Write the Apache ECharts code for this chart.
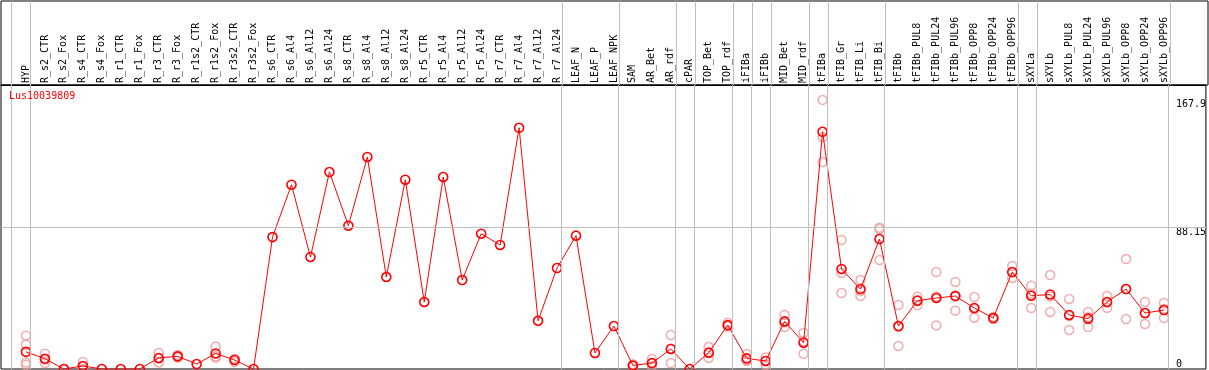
<!DOCTYPE html>
<html>
<head>
<meta charset="utf-8">
<script src="https://cdn.jsdelivr.net/npm/echarts@6/dist/echarts.min.js"></script>
<style>html,body{margin:0;padding:0;background:#fff}#c{width:1209px;height:370px}</style>
</head>
<body>
<div id="c"></div>
<script>
const title = 'Lus10039809';
const categories = ['HYP','R_s2_CTR','R_s2_Fox','R_s4_CTR','R_s4_Fox','R_r1_CTR','R_r1_Fox','R_r3_CTR','R_r3_Fox','R_r1s2_CTR','R_r1s2_Fox','R_r3s2_CTR','R_r3s2_Fox','R_s6_CTR','R_s6_Al4','R_s6_Al12','R_s6_Al24','R_s8_CTR','R_s8_Al4','R_s8_Al12','R_s8_Al24','R_r5_CTR','R_r5_Al4','R_r5_Al12','R_r5_Al24','R_r7_CTR','R_r7_Al4','R_r7_Al12','R_r7_Al24','LEAF_N','LEAF_P','LEAF_NPK','SAM','AR_Bet','AR_rdf','cPAR','TOP_Bet','TOP_rdf','iFIBa','iFIBb','MID_Bet','MID_rdf','tFIBa','tFIB_Gr','tFIB_Li','tFIB_Bi','tFIBb','tFIBb_PUL8','tFIBb_PUL24','tFIBb_PUL96','tFIBb_OPP8','tFIBb_OPP24','tFIBb_OPP96','sXYLa','sXYLb','sXYLb_PUL8','sXYLb_PUL24','sXYLb_PUL96','sXYLb_OPP8','sXYLb_OPP24','sXYLb_OPP96'];
const means = [10.7,6.4,0,1.9,0,0,0,6.9,7.9,3.1,9.7,5.6,0,82.3,115.0,69.9,122.9,89.4,132.3,57.4,118.1,41.8,119.8,55.5,84.4,77.4,150.5,30.1,63.0,83.2,10.0,26.8,2.2,3.7,12.5,0,10.2,27.4,6.6,5.0,29.7,16.4,148.0,62.4,49.9,81.1,26.8,42.6,44.3,45.5,38.1,31.8,60.5,45.7,46.5,33.7,31.4,41.8,49.9,34.9,36.8];
const replicates = [
  [20.8,15.2,4.1,2.7],[9.5,3.7,6.0],[0],[4.4,1.4,0],[],[],[],[10.0,4.1,6.6],[8.8,7.2,7.7],[],[14.1,7.2,7.8],[6.2,4.4,6.2],[],
  [],[],[],[],[],[],[],[],[],[],[],[],[],[],[],[],
  [],[],[],
  [1.6,3.0,2.0],[6.2,1.6,3.3],[21.2,3.7,12.6],[],[13.7,6.9,10.0],[28.8,26.5,26.9],[9.4,5.0,5.4],[7.2,2.7,5.1],[33.7,26.2,29.2],[22.5,9.5,17.2],
  [167.9,144.7,129.1],[80.5,59.9,47.4],[55.5,45.5,48.7],[88.1,68.0,87.2],[39.9,14.3,26.2],[45.1,39.7,43.0],[60.5,27.2,45.2],[54.3,36.4,45.8],[44.9,32.0,37.4],[32.5,31.2,31.7],[64.3,56.8,60.4],
  [52.0,38.1,47.0],[58.6,35.6,45.3],[43.7,24.3,33.1],[35.6,26.2,32.4],[45.5,38.2,41.7],[68.6,31.2,49.9],[41.8,28.1,34.8],[41.2,31.8,37.4]
];
const groupEnds = [-1,0,28,31,34,35,37,38,39,41,42,45,52,53,60];
const yTicksTop = [88.15, 167.9];
const yTicksBottom = [0];
const gridLineValue = 88.15;

const meanData = means.map((v, i) => [i, v]);
const repData = [];
replicates.forEach((arr, i) => arr.forEach(v => repData.push([i, v])));
const catIdx = categories.map((c, i) => i);
const mono = 'DejaVu Sans Mono';
const X_MIN = -1.3158, X_MAX = 62.2105, Y_MAX = 177.2;
const guideLines = groupEnds.map(g => ({xAxis: g + 0.24}));
const guideStyle = {color: '#c0c0c0', width: 1, type: 'solid'};

const chart = echarts.init(document.getElementById('c'), null, {renderer: 'canvas'});
chart.setOption({
  animation: false,
  backgroundColor: '#fff',
  title: {text: title, left: 9, top: 91, padding: 0,
    textStyle: {color: '#ff0000', fontFamily: mono, fontSize: 10, fontWeight: 'normal'}},
  grid: [
    {left: 1, right: 1, top: 85, bottom: 1, show: true, borderColor: '#000', borderWidth: 1},
    {left: 1, right: 1, top: 1, height: 84, show: true, borderColor: '#000', borderWidth: 1}
  ],
  xAxis: [
    {type: 'value', gridIndex: 0, min: X_MIN, max: X_MAX, position: 'top',
      axisLine: {show: true, onZero: false, lineStyle: {color: '#000', width: 1}},
      axisTick: {show: false}, splitLine: {show: false},
      axisLabel: {customValues: catIdx, rotate: -90, margin: 2, fontFamily: mono, fontSize: 10, color: '#000',
        formatter: v => categories[Math.round(v)] || ''}},
    {type: 'value', gridIndex: 1, min: X_MIN, max: X_MAX, show: false}
  ],
  yAxis: [
    {type: 'value', gridIndex: 0, min: 0, max: Y_MAX, position: 'right',
      axisLine: {show: false}, axisTick: {show: false}, splitLine: {show: false},
      axisLabel: {customValues: yTicksTop, inside: true, align: 'left', margin: 30, verticalAlign: 'top',
        fontFamily: mono, fontSize: 10, color: '#000', formatter: v => String(v)}},
    {type: 'value', gridIndex: 0, min: 0, max: Y_MAX, position: 'right',
      axisLine: {show: false}, axisTick: {show: false}, splitLine: {show: false},
      axisLabel: {customValues: yTicksBottom, inside: true, align: 'left', margin: 30, verticalAlign: 'bottom',
        fontFamily: mono, fontSize: 10, color: '#000', formatter: v => String(v)}},
    {type: 'value', gridIndex: 1, min: 0, max: 1, show: false}
  ],
  series: [
    {
      type: 'line', name: 'guidesTop', xAxisIndex: 1, yAxisIndex: 2, data: [], silent: true,
      markLine: {silent: true, symbol: 'none', label: {show: false}, lineStyle: guideStyle, data: guideLines}
    },
    {
      type: 'line', name: 'guides', xAxisIndex: 0, yAxisIndex: 0, data: [], silent: true,
      markLine: {silent: true, symbol: 'none', label: {show: false}, lineStyle: guideStyle,
        data: guideLines.concat([{yAxis: gridLineValue}])}
    },
    {
      type: 'scatter', name: 'replicates', xAxisIndex: 0, yAxisIndex: 0, data: repData, symbol: 'circle', symbolSize: 9, z: 3,
      itemStyle: {color: 'rgba(0,0,0,0)', borderColor: '#ef9a9a', borderWidth: 1.5}
    },
    {
      type: 'line', name: 'mean', xAxisIndex: 0, yAxisIndex: 0, data: meanData, symbol: 'circle', symbolSize: 9, z: 4,
      lineStyle: {color: '#ff0000', width: 1},
      itemStyle: {color: 'rgba(0,0,0,0)', borderColor: '#ff0000', borderWidth: 1.6}
    }
  ]
});
</script>
</body>
</html>
